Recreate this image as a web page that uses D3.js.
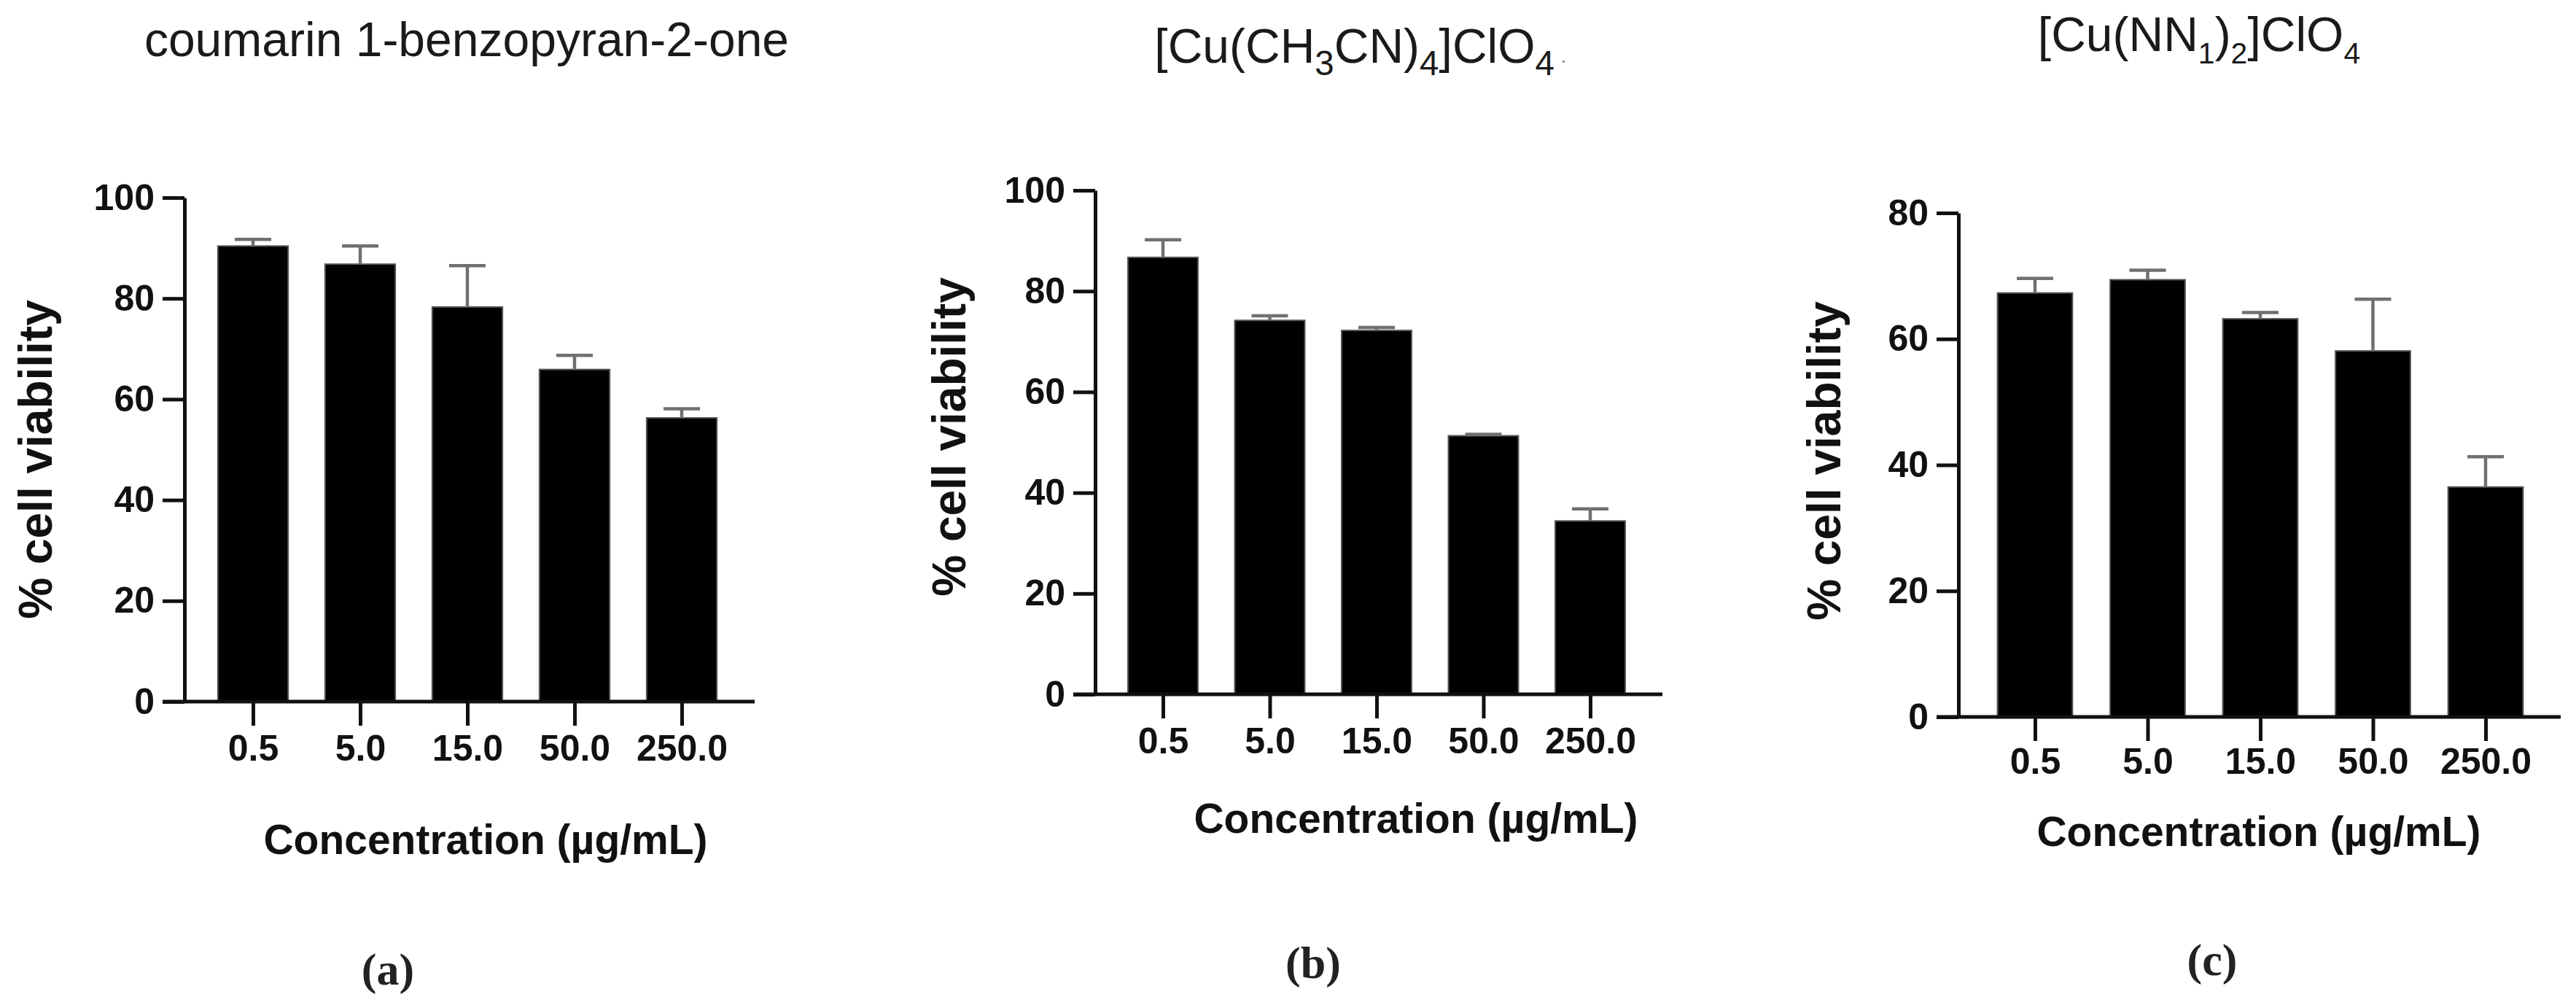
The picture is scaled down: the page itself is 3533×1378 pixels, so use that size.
<!DOCTYPE html>
<html><head><meta charset="utf-8">
<script src="https://cdn.jsdelivr.net/npm/d3@7"></script>
<style>body{margin:0;background:#fff} svg{display:block}</style>
</head><body>
<svg id="chart" width="3533" height="1378"></svg>
<script>
// ---- data ----
const categories = ["0.5", "5.0", "15.0", "50.0", "250.0"];
const meanA = [90.4, 86.8, 78.3, 65.9, 56.3];
const errA  = [1.3, 3.6, 8.2, 2.8, 1.8];
const meanB = [86.7, 74.2, 72.2, 51.3, 34.4];
const errB  = [3.5, 0.9, 0.6, 0.3, 2.4];
const meanC = [67.3, 69.4, 63.2, 58.1, 36.5];
const errC  = [2.3, 1.5, 1.0, 8.2, 4.8];
const ticksA = [0, 20, 40, 60, 80, 100];
const ticksB = [0, 20, 40, 60, 80, 100];
const ticksC = [0, 20, 40, 60, 80];
const maxA = 100, maxB = 100, maxC = 80;
const titleA = [["coumarin 1-benzopyran-2-one", 0]];
const titleB = [["[Cu(CH", 0], ["3", 1], ["CN)", 0], ["4", 1], ["]ClO", 0], ["4", 1], [" .", 2]];
const titleC = [["[Cu(NN", 0], ["1", 1], [")", 0], ["2", 1], ["]ClO", 0], ["4", 1]];
const panelLabels = ["(a)", "(b)", "(c)"];
const xTitle = "Concentration (\u00b5g/mL)";
const yTitle = "% cell viability";

// ---- layout ----
const panels = [
  {mean: meanA, err: errA, ticks: ticksA, max: maxA, title: titleA, label: panelLabels[0],
   axisX: 253, xEnd: 1035, y0: 962, yTop: 271, c0: 347, c1: 935, bwFrac: 0.655,
   titleX: 640, titleY: 77, subScale: 0.72, xtX: 666, xtY: 1171, ytX: 49, ytY: 630, plX: 532, plY: 1329, xPad: 12},
  {mean: meanB, err: errB, ticks: ticksB, max: maxB, title: titleB, label: panelLabels[1],
   axisX: 1502, xEnd: 2280, y0: 952, yTop: 261, c0: 1595, c1: 2181, bwFrac: 0.655,
   titleX: 1866, titleY: 86, subScale: 0.72, xtX: 1942, xtY: 1142, ytX: 1302, ytY: 599, plX: 1801, plY: 1320, xPad: 12},
  {mean: meanC, err: errC, ticks: ticksC, max: maxC, title: titleC, label: panelLabels[2],
   axisX: 2686, xEnd: 3512, y0: 983, yTop: 292, c0: 2791, c1: 3409, bwFrac: 0.665,
   titleX: 3016, titleY: 70, subScale: 0.62, xtX: 3098, xtY: 1160, ytX: 2502, ytY: 632, plX: 3034, plY: 1316, xPad: 9}
];

const svg = d3.select("#chart");
const SANS = "'Liberation Sans', Arial, Helvetica, sans-serif";
const AX = "#111";

panels.forEach(p => {
  const g = svg.append("g");
  const x = d3.scalePoint().domain(categories).range([p.c0, p.c1]);
  const bw = x.step() * p.bwFrac;
  const y = d3.scaleLinear().domain([0, p.max]).range([p.y0, p.yTop]);
  const rows = categories.map((c, i) => ({c, m: p.mean[i], e: p.err[i]}));

  // bars
  g.selectAll("rect.bar").data(rows).join("rect")
    .attr("class", "bar")
    .attr("x", d => x(d.c) - bw / 2)
    .attr("width", bw)
    .attr("y", d => y(d.m))
    .attr("height", d => y(0) - y(d.m))
    .attr("fill", "#000")
    .attr("stroke", "#555")
    .attr("stroke-width", 2);

  // error bars (upper only)
  const eb = g.selectAll("g.err").data(rows).join("g").attr("class", "err")
    .attr("stroke", "#707070").attr("stroke-width", 4.5);
  eb.append("line")
    .attr("x1", d => x(d.c)).attr("x2", d => x(d.c))
    .attr("y1", d => y(d.m)).attr("y2", d => y(d.m + d.e));
  eb.append("line")
    .attr("x1", d => x(d.c) - 25).attr("x2", d => x(d.c) + 25)
    .attr("y1", d => y(d.m + d.e)).attr("y2", d => y(d.m + d.e));

  // y axis
  const ya = g.append("g").attr("transform", `translate(${p.axisX},0)`)
    .call(d3.axisLeft(y).tickValues(p.ticks).tickSize(30).tickSizeOuter(0).tickPadding(11)
      .tickFormat(d3.format("d")));
  ya.select(".domain").attr("stroke", AX).attr("stroke-width", 5);
  ya.selectAll(".tick line").attr("stroke", AX).attr("stroke-width", 5);
  ya.selectAll(".tick text").attr("font-family", SANS).attr("font-weight", "bold")
    .attr("font-size", 50).attr("fill", AX);

  // x axis
  g.append("line")
    .attr("x1", p.axisX - 30).attr("x2", p.xEnd)
    .attr("y1", y(0)).attr("y2", y(0))
    .attr("stroke", AX).attr("stroke-width", 5);
  const xa = g.append("g").attr("transform", `translate(0,${y(0)})`)
    .call(d3.axisBottom(x).tickSize(33).tickPadding(p.xPad));
  xa.select(".domain").remove();
  xa.selectAll(".tick line").attr("stroke", AX).attr("stroke-width", 5);
  xa.selectAll(".tick text").attr("font-family", SANS).attr("font-weight", "bold")
    .attr("font-size", 50).attr("fill", AX);

  // axis titles
  g.append("text").attr("x", p.xtX).attr("y", p.xtY)
    .attr("text-anchor", "middle").attr("font-family", SANS).attr("font-weight", "bold")
    .attr("font-size", 57).attr("fill", AX).text(xTitle);
  g.append("text").attr("transform", `translate(${p.ytX},${p.ytY}) rotate(-90)`)
    .attr("text-anchor", "middle").attr("dominant-baseline", "central")
    .attr("font-family", SANS).attr("font-weight", "bold")
    .attr("font-size", 64).attr("fill", AX).text(yTitle);

  // chart title with subscripts
  const t = g.append("text").attr("x", p.titleX).attr("y", p.titleY)
    .attr("text-anchor", "middle").attr("font-family", SANS)
    .attr("font-size", 66).attr("fill", "#1a1a1a");
  let shifted = 0;
  p.title.forEach(([s, type]) => {
    const ts = t.append("tspan").text(s);
    if (type === 1) {
      const dy = 17 - shifted;
      ts.attr("font-size", 66 * p.subScale).attr("dy", dy);
      shifted = 17;
    } else if (type === 2) {
      ts.attr("font-size", 30).attr("fill", "#999").attr("dy", -shifted);
      shifted = 0;
    } else {
      ts.attr("dy", -shifted);
      shifted = 0;
    }
  });

  // panel label
  g.append("text").attr("x", p.plX).attr("y", p.plY)
    .attr("text-anchor", "middle").attr("dominant-baseline", "central")
    .attr("font-family", "'Liberation Serif', 'DejaVu Serif', serif").attr("font-weight", "bold")
    .attr("font-size", 62).attr("fill", "#222").text(p.label);
});
</script>
</body></html>
